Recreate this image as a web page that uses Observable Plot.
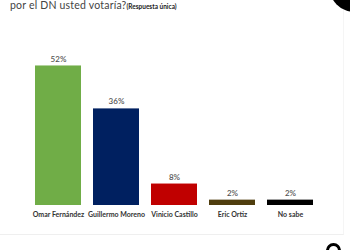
<!DOCTYPE html>
<html>
<head>
<meta charset="utf-8">
<script src="https://cdn.jsdelivr.net/npm/d3@7"></script>
<script src="https://cdn.jsdelivr.net/npm/@observablehq/plot@0.6"></script>
<style>
  html, body { margin: 0; padding: 0; background: #fff; }
  #wrap { position: relative; width: 350px; height: 250px; overflow: hidden; }
  #title { position: absolute; left: 10px; top: 0px; font-family: Lato, sans-serif; font-size: 10.5px; line-height: 11px; color: #444; white-space: nowrap; letter-spacing: 0.2px; }
  #title b { font-size: 6.5px; color: #222; letter-spacing: 0; }
  #card { position: absolute; left: -2px; top: -2px; width: 345px; height: 236px; border-right: 1px solid #f5f5f5; border-bottom: 1px solid #efefef; }
  #blob { position: absolute; left: 329px; top: -40px; width: 52px; height: 52px; border-radius: 50%; background: #000; }
  #ring { position: absolute; left: 326px; top: 243px; width: 9px; height: 9px; border-radius: 50%; border: 3px solid #000; }
  #chart { position: absolute; left: 0; top: 0; }
</style>
</head>
<body>
<div id="wrap">
  <div id="card"></div>
  <div id="title">por el DN usted votaría?<b>(Respuesta única)</b></div>
  <div id="blob"></div>
  <div id="ring"></div>
  <div id="chart"></div>
</div>
<script>
const categories = ["Omar Fernández", "Guillermo Moreno", "Vinicio Castillo", "Eric Ortiz", "No sabe"];
const values = [52, 36, 8, 2, 2];
const colors = ["#70ad47", "#002060", "#c00000", "#4f3d0e", "#000000"];

const data = categories.map((c, i) => ({ cat: c, val: values[i], color: colors[i] }));

const chart = Plot.plot({
  width: 350,
  height: 250,
  marginLeft: 22,
  marginRight: 23.5,
  marginTop: 44,
  marginBottom: 45,
  style: { background: "transparent", fontFamily: "Lato, sans-serif" },
  x: { domain: categories, padding: 0.2, label: null, tickSize: 0, tickPadding: 7 },
  y: { domain: [0, 60], axis: null },
  marks: [
    Plot.barY(data, { x: "cat", y: "val", fill: "color" }),
    Plot.text(data, { x: "cat", y: "val", text: d => d.val + "%", dy: -7, fontSize: 8, fill: "#555", fontWeight: 600 }),
    Plot.axisX({ tickSize: 0, tickPadding: 7, fontSize: 7, fontWeight: "bold", fill: "#333", label: null })
  ]
});
document.getElementById("chart").appendChild(chart);
</script>
</body>
</html>
